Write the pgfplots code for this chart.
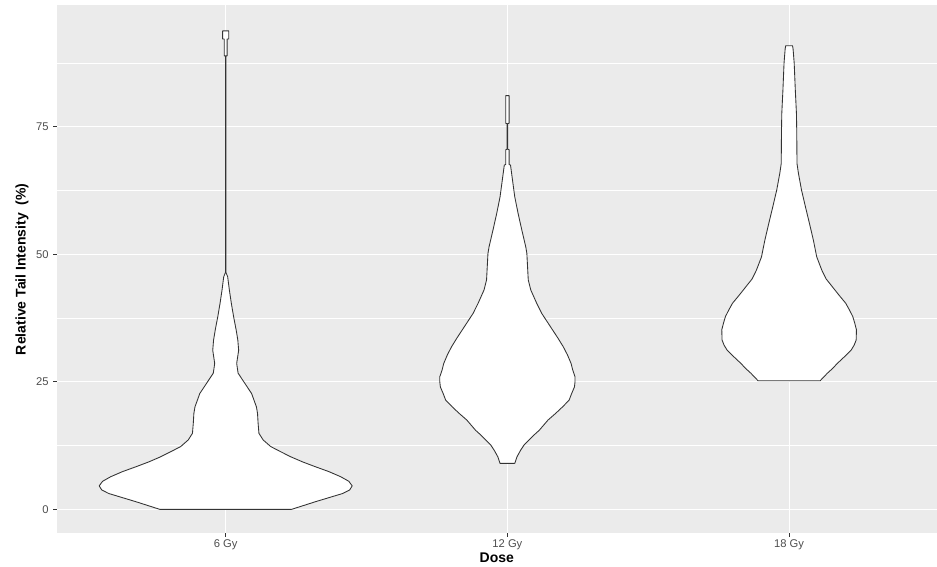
\documentclass[border=0pt]{standalone}
\usepackage{fontspec}
\setmainfont{Liberation Sans}
\usepackage{pgfplots}
\pgfplotsset{compat=1.18}
\definecolor{panelbg}{HTML}{EBEBEB}
\definecolor{tickc}{HTML}{333333}
\definecolor{labc}{HTML}{4D4D4D}
\begin{document}
\begin{tikzpicture}
\begin{axis}[
  scale only axis,
  width=660.2pt, height=395.7pt,
  xmin=0.4, xmax=3.525,
  ymin=-4.65, ymax=98.8,
  xtick={1,2,3},
  xticklabels={6 Gy,12 Gy,18 Gy},
  ytick={0,25,50,75},
  minor ytick={12.5,37.5,62.5,87.5},
  xmajorgrids, ymajorgrids, yminorgrids,
  major grid style={white, line width=0.85pt},
  minor grid style={white, line width=0.45pt},
  axis background/.style={fill=panelbg},
  axis line style={draw=none},
  tick pos=left,
  tick align=outside,
  major tick length=2.6pt,
  minor tick length=0pt,
  tick style={color=tickc, line width=0.5pt},
  /pgf/number format/assume math mode=true,
  tick label style={font=\fontsize{8.4}{10}\selectfont, text=labc},
  xticklabel style={yshift=1pt},
  label style={font=\bfseries\fontsize{10.5}{12}\selectfont, text=black},
  xlabel={Dose},
  ylabel={Relative Tail Intensity\ \ (\%)},
  xlabel style={at={(axis description cs:0.5,-0.047)}, anchor=center},
  ylabel style={at={(axis description cs:-0.0394,0.5)}, anchor=center},
  violin/.style={fill=white, draw=tickc, line width=0.65pt, line join=round},
]
% 6 Gy
\addplot[violin] coordinates {
(1.234,0) (1.319,1.5) (1.415,3.1) (1.440,3.8) (1.449,4.6) (1.437,5.5) (1.408,6.4)
(1.366,7.4) (1.316,8.4) (1.273,9.3) (1.231,10.3) (1.195,11.3) (1.160,12.3) (1.133,13.6)
(1.118,14.9) (1.115,16.9) (1.113,18.8) (1.109,20.1) (1.092,22.7) (1.068,24.7) (1.044,26.7)
(1.039,28.6) (1.046,31.2) (1.043,33.2) (1.037,35.2) (1.028,37.8) (1.020,40.4) (1.013,43.0)
(1.007,45.6) (1.0005,46.5) (1.0005,88.9) (1.005,88.9) (1.005,92.2) (1.011,92.2) (1.011,93.8)
(0.989,93.8) (0.989,92.2) (0.995,92.2) (0.995,88.9) (0.9995,88.9) (0.9995,46.5) (0.993,45.6)
(0.987,43.0) (0.980,40.4) (0.972,37.8) (0.963,35.2) (0.957,33.2) (0.954,31.2) (0.961,28.6)
(0.956,26.7) (0.932,24.7) (0.908,22.7) (0.891,20.1) (0.887,18.8) (0.885,16.9) (0.882,14.9)
(0.867,13.6) (0.840,12.3) (0.805,11.3) (0.769,10.3) (0.727,9.3) (0.684,8.4) (0.634,7.4)
(0.592,6.4) (0.563,5.5) (0.551,4.6) (0.560,3.8) (0.585,3.1) (0.681,1.5) (0.766,0) (1.234,0)
};
% 12 Gy
\addplot[violin] coordinates {
(2.026,9.0) (2.034,10.3) (2.047,11.6) (2.059,12.6) (2.077,13.6) (2.095,14.6) (2.113,15.5)
(2.144,17.5) (2.171,18.8) (2.196,20.1) (2.219,21.4) (2.228,22.7) (2.238,24.0) (2.240,25.0)
(2.240,26.0) (2.232,27.3) (2.226,28.6) (2.213,30.3) (2.198,31.9) (2.179,33.6) (2.160,35.2)
(2.141,36.8) (2.122,38.4) (2.104,40.4) (2.083,43.0) (2.074,45.0) (2.069,50.2) (2.065,51.5)
(2.051,54.8) (2.038,58.0) (2.026,61.3) (2.018,64.6) (2.011,67.5) (2.006,67.6) (2.006,70.5)
(2.001,70.6) (2.001,75.6) (2.006,75.7) (2.006,81.1)
(1.994,81.1) (1.994,75.7) (1.999,75.6) (1.999,70.6) (1.994,70.5) (1.994,67.6) (1.989,67.5)
(1.982,64.6) (1.974,61.3) (1.962,58.0) (1.949,54.8) (1.935,51.5) (1.931,50.2) (1.926,45.0)
(1.917,43.0) (1.896,40.4) (1.878,38.4) (1.859,36.8) (1.840,35.2) (1.821,33.6) (1.802,31.9)
(1.787,30.3) (1.774,28.6) (1.768,27.3) (1.760,26.0) (1.760,25.0) (1.762,24.0) (1.772,22.7)
(1.781,21.4) (1.804,20.1) (1.829,18.8) (1.856,17.5) (1.887,15.5) (1.905,14.6) (1.923,13.6)
(1.941,12.6) (1.953,11.6) (1.966,10.3) (1.974,9.0) (2.026,9.0)
};
% 18 Gy
\addplot[violin] coordinates {
(3.110,25.2) (3.136,26.7) (3.154,27.6) (3.171,28.6) (3.196,29.9) (3.220,31.2) (3.231,32.2)
(3.238,33.2) (3.239,35.2) (3.233,36.5) (3.226,37.8) (3.214,39.1) (3.201,40.4) (3.177,42.0)
(3.154,43.6) (3.131,45.2) (3.116,46.9) (3.098,49.5) (3.086,52.8) (3.072,56.1) (3.058,59.3)
(3.044,62.6) (3.033,65.9) (3.028,67.8) (3.027,74.4) (3.026,77.6) (3.022,82.2) (3.018,87.5)
(3.014,90.3) (3.012,90.9)
(2.988,90.9) (2.986,90.3) (2.982,87.5) (2.978,82.2) (2.974,77.6) (2.973,74.4) (2.972,67.8)
(2.967,65.9) (2.956,62.6) (2.942,59.3) (2.928,56.1) (2.914,52.8) (2.902,49.5) (2.884,46.9)
(2.869,45.2) (2.846,43.6) (2.823,42.0) (2.799,40.4) (2.786,39.1) (2.774,37.8) (2.767,36.5)
(2.761,35.2) (2.762,33.2) (2.769,32.2) (2.780,31.2) (2.804,29.9) (2.829,28.6) (2.846,27.6)
(2.864,26.7) (2.890,25.2) (3.110,25.2)
};
\end{axis}
\pgfresetboundingbox
\path (current axis.south west) ++(-42.5pt,-24.75pt) coordinate (bbsw);
\path (current axis.north east) ++(0pt,4.05pt) coordinate (bbne);
\path (bbsw) rectangle (bbne);
\end{tikzpicture}
\end{document}
